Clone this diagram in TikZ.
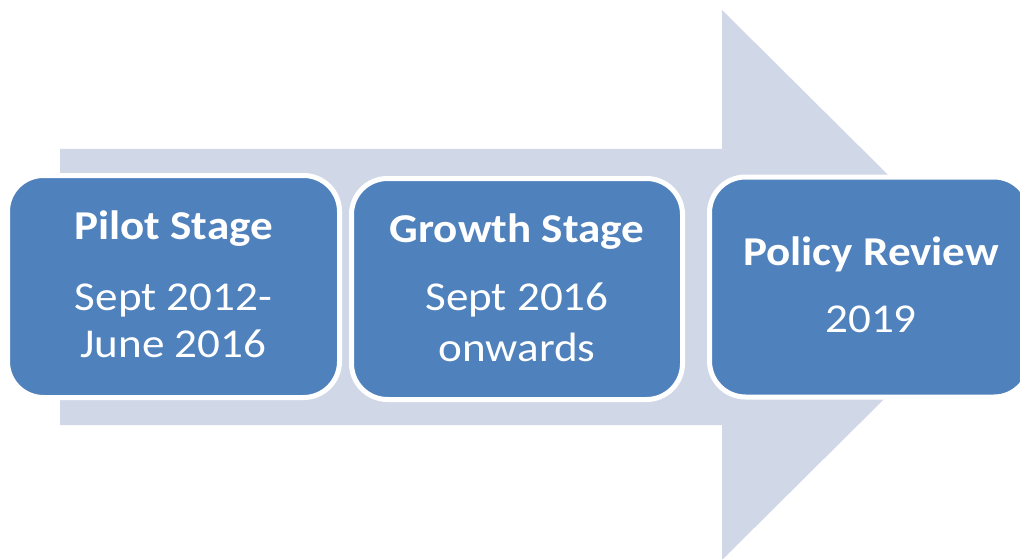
\documentclass[tikz,border=0pt]{standalone}
\usepackage{fontspec}
\setmainfont{Carlito}
\newfontfamily\widefont[FakeStretch=1.1]{Carlito}
\definecolor{arrowfill}{HTML}{D0D8E8}
\definecolor{boxblue}{HTML}{4F81BD}
\tikzset{
  stagebox/.style={fill=boxblue, draw=white, line width=5pt, rounded corners=36pt},
  title/.style={text=white, anchor=base, font=\widefont\fontsize{41}{48}\selectfont\bfseries, inner sep=0pt},
  sub/.style={text=white, anchor=base, font=\widefont\fontsize{41}{48}\selectfont, inner sep=0pt}
}
\begin{document}
\begin{tikzpicture}[x=1pt,y=-1pt]
\useasboundingbox (0,0) rectangle (1020,559);
\clip (0,0) rectangle (1020,559);
% big arrow
\fill[arrowfill] (60,149) -- (722,149) -- (722,10) -- (999,285) -- (722,560) -- (722,425) -- (60,425) -- cycle;
% boxes
\draw[stagebox] (7.5,175.5) rectangle (339.5,397.5);
\draw[stagebox] (351.5,178.5) rectangle (682.5,399.5);
\draw[stagebox] (709.5,177) rectangle (1030,397);
% texts
\node[title] (t1) at (173.5,239.5) {Pilot Stage};
\node[sub] (s1a) at (173.5,310.5) {Sept 2012-};
\node[sub] (s1b) at (173.5,357) {June 2016};
\node[title] (t2) at (517,242) {Growth Stage};
\node[sub] (s2a) at (517,310) {Sept 2016};
\node[sub] (s2b) at (517,361) {onwards};
\node[title] (t3) at (871,265) {Policy Review};
\node[sub] (s3) at (871,332) {2019};
\end{tikzpicture}
\end{document}
